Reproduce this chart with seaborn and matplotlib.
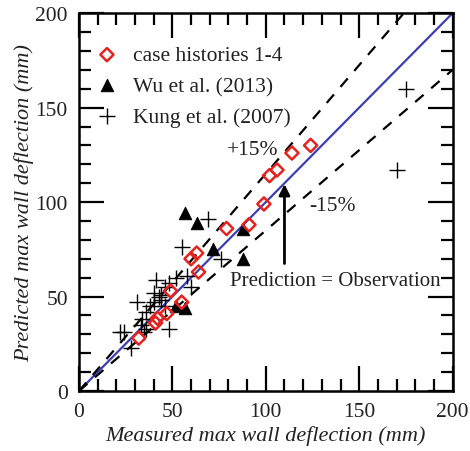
import numpy as np
import pandas as pd
import matplotlib
matplotlib.use("Agg")
import matplotlib.pyplot as plt
import seaborn as sns

# data (mm)
case_x = [32, 41, 42, 47, 49, 55, 60, 63, 64, 79, 91, 99, 102, 106, 114, 124]
case_y = [28, 36, 38.5, 41, 53, 47, 70, 73, 63, 86, 88, 99, 114, 117, 126, 130]

wu_x = [57, 63, 88, 72, 88, 52, 57]
wu_y = [94, 89, 86, 75, 70, 45, 44]

kung_x = [175, 170, 69, 55, 76, 41, 52, 58, 60, 46, 48, 44, 40, 31, 40, 44, 46, 38,
          36, 34, 33, 36, 48, 22, 24, 28, 35, 43]
kung_y = [160, 117, 91, 76, 70, 59, 60, 61, 55, 55, 57, 51, 52, 47, 47, 48, 45, 45,
          42, 38, 35, 33, 33, 31, 31, 23, 31, 50]

labels = ["case histories 1-4", "Wu et al. (2013)", "Kung et al. (2007)"]
line_x = [0, 200]
ratio_lines = [1.15, 0.85]

sns.set_style("ticks")
plt.rcParams['font.family'] = ['Liberation Serif', 'DejaVu Serif']

fig = plt.figure(figsize=(4.7, 4.52), dpi=100)
ax = fig.add_axes([0.168, 0.1327, 0.795, 0.836])

# reference lines
sns.lineplot(x=line_x, y=line_x, color='#3b3fb4', lw=1.6, ax=ax)
for r in ratio_lines:
    xs = [0, min(200, 200 / r)]
    ys = [0, r * xs[1]]
    sns.lineplot(x=xs, y=ys, color='black', lw=1.6, ax=ax)
for ln in ax.lines:
    if ln.get_color() == 'black':
        ln.set_dashes((5, 4.5))

sns.scatterplot(x=case_x, y=case_y, marker='D', s=45, facecolors='none',
                edgecolors='#e5231e', linewidth=1.8, ax=ax, label=labels[0], zorder=5)
sns.scatterplot(x=wu_x, y=wu_y, marker='^', s=80, color='black', edgecolor='black',
                ax=ax, label=labels[1], zorder=4)
sns.scatterplot(x=kung_x, y=kung_y, marker='+', s=140, color='black', linewidth=1.0,
                ax=ax, label=labels[2], zorder=4)

ax.set_xlim(0, 200)
ax.set_ylim(0, 200)
ax.set_xticks([0, 50, 100, 150, 200])
ax.set_yticks([0, 50, 100, 150, 200])
ax.set_xticks(np.arange(0, 201, 10), minor=True)
ax.set_yticks(np.arange(0, 201, 10), minor=True)
ax.tick_params(which='both', direction='in', top=True, right=True, labelsize=15.5,
               width=1.6, color='black', labelcolor='#222222')
ax.tick_params(which='major', length=18, pad=8)
ax.tick_params(which='minor', length=8.5)
for sp in ax.spines.values():
    sp.set_linewidth(1.8)
    sp.set_color('black')

ax.set_xlabel('Measured max wall deflection (mm)', fontsize=16, style='italic',
              color='#222222', labelpad=3)
ax.set_ylabel('Predicted max wall deflection (mm)', fontsize=16, style='italic',
              color='#222222', labelpad=1)

ax.text(79, 128, '+15%', fontsize=15.5, color='#222222', va='center')
ax.text(123, 98, '-15%', fontsize=15.5, color='#222222', va='center')
ax.text(81, 58.5, 'Prediction = Observation', fontsize=15, color='#222222', va='center')
ax.annotate('', xy=(110, 111), xytext=(110, 66),
            arrowprops=dict(arrowstyle='-|>', color='black', lw=2,
                            mutation_scale=16))

leg = ax.legend(loc='upper left', frameon=False, fontsize=15.5, handletextpad=0.6,
                borderaxespad=0.3, labelspacing=0.5, handlelength=1.2,
                bbox_to_anchor=(0.0, 0.955))
for t in leg.get_texts():
    t.set_color('#222222')

fig.savefig('out.png', dpi=100)
